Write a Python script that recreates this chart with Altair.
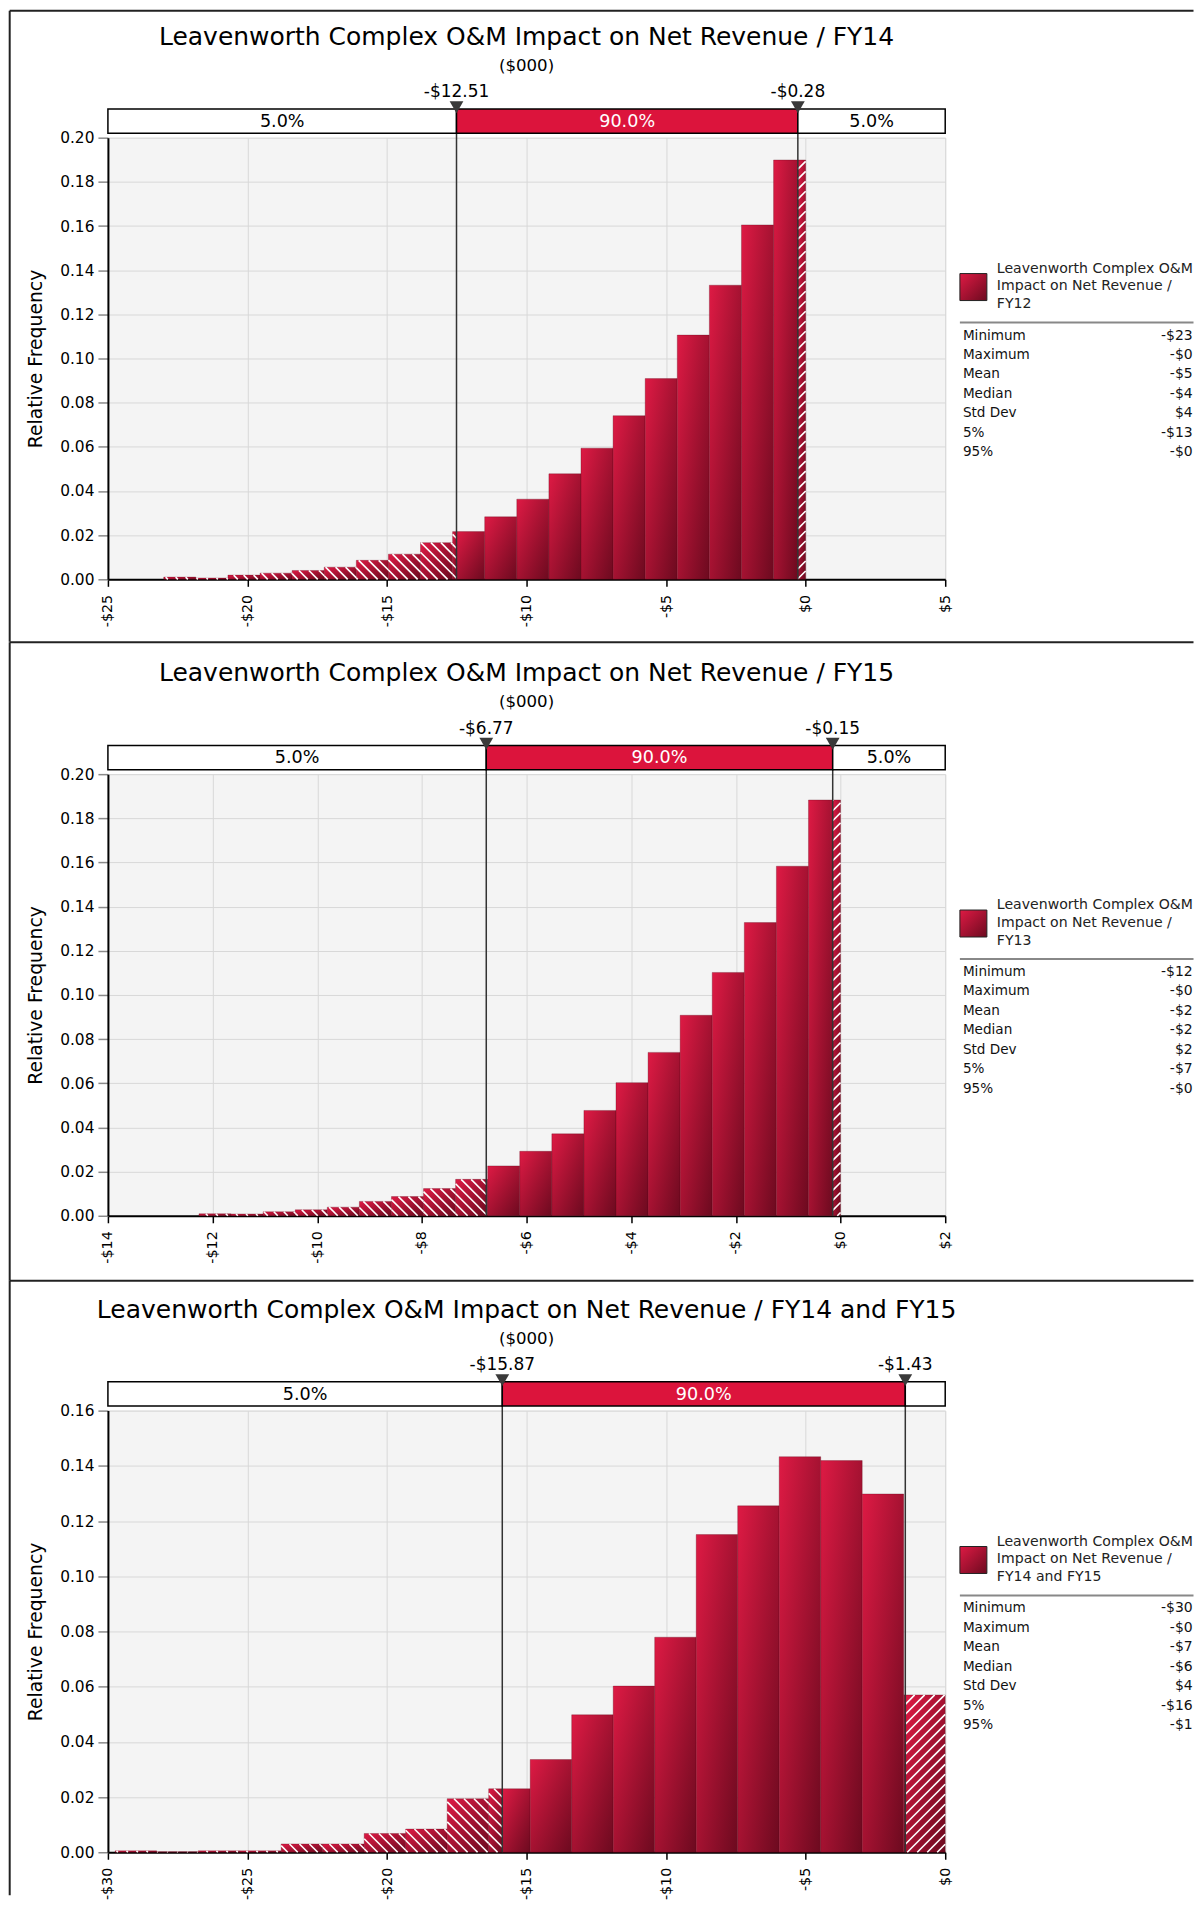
import math
import altair as alt
import pandas as pd

FONT = "DejaVu Sans"
W, H = 838, 442

SUBTITLE = "($000)"
BAND_LABELS = ["5.0%", "90.0%", "5.0%"]
STAT_NAMES = ["Minimum", "Maximum", "Mean", "Median", "Std Dev", "5%", "95%"]
Y_TICKS_20 = [0.00, 0.02, 0.04, 0.06, 0.08, 0.10, 0.12, 0.14, 0.16, 0.18, 0.20]
Y_TICKS_16 = [0.00, 0.02, 0.04, 0.06, 0.08, 0.10, 0.12, 0.14, 0.16]

# ---- Panel 1: FY14 ----
FY14_TITLE = "Leavenworth Complex O&M Impact on Net Revenue / FY14"
FY14_EDGES = [-23.0, -21.85, -20.7, -19.55, -18.4, -17.25, -16.1, -14.95, -13.8, -12.65,
              -11.5, -10.35, -9.2, -8.05, -6.9, -5.75, -4.6, -3.45, -2.3, -1.15, 0.0]
FY14_FREQ = [0.0010, 0.0006, 0.0019, 0.0028, 0.0040, 0.0055, 0.0086, 0.0114, 0.0166, 0.0216,
             0.0283, 0.0363, 0.0478, 0.0594, 0.0741, 0.0909, 0.1106, 0.1332, 0.1605, 0.1899]
FY14_P5, FY14_P95 = -12.51, -0.28
FY14_XDOM = [-25, 5]
FY14_XTICKS = [-25, -20, -15, -10, -5, 0, 5]
FY14_LEGEND = ["Leavenworth Complex O&M", "Impact on Net Revenue /", "FY12"]
FY14_STATS = ["-$23", "-$0", "-$5", "-$4", "$4", "-$13", "-$0"]

# ---- Panel 2: FY15 ----
FY15_TITLE = "Leavenworth Complex O&M Impact on Net Revenue / FY15"
FY15_EDGES = [-12.26, -11.647, -11.034, -10.421, -9.808, -9.195, -8.582, -7.969, -7.356, -6.743,
              -6.13, -5.517, -4.904, -4.291, -3.678, -3.065, -2.452, -1.839, -1.226, -0.613, 0.0]
FY15_FREQ = [0.0009, 0.0008, 0.0018, 0.0027, 0.0039, 0.0065, 0.0087, 0.0123, 0.0165, 0.0226,
             0.0292, 0.0371, 0.0477, 0.0603, 0.0740, 0.0908, 0.1102, 0.1328, 0.1583, 0.1883]
FY15_P5, FY15_P95 = -6.77, -0.15
FY15_XDOM = [-14, 2]
FY15_XTICKS = [-14, -12, -10, -8, -6, -4, -2, 0, 2]
FY15_LEGEND = ["Leavenworth Complex O&M", "Impact on Net Revenue /", "FY13"]
FY15_STATS = ["-$12", "-$0", "-$2", "-$2", "$2", "-$7", "-$0"]

# ---- Panel 3: FY14 and FY15 ----
BOTH_TITLE = "Leavenworth Complex O&M Impact on Net Revenue / FY14 and FY15"
BOTH_EDGES = [-29.74, -28.253, -26.766, -25.279, -23.792, -22.305, -20.818, -19.331, -17.844, -16.357,
              -14.87, -13.383, -11.896, -10.409, -8.922, -7.435, -5.948, -4.461, -2.974, -1.487, 0.0]
BOTH_FREQ = [0.0005, 0.0002, 0.0005, 0.0005, 0.0030, 0.0030, 0.0068, 0.0084, 0.0194, 0.0230,
             0.0336, 0.0498, 0.0602, 0.0779, 0.1151, 0.1255, 0.1433, 0.1419, 0.1298, 0.0570]
BOTH_P5, BOTH_P95 = -15.87, -1.43
BOTH_XDOM = [-30, 0]
BOTH_XTICKS = [-30, -25, -20, -15, -10, -5, 0]
BOTH_LEGEND = ["Leavenworth Complex O&M", "Impact on Net Revenue /", "FY14 and FY15"]
BOTH_STATS = ["-$30", "-$0", "-$7", "-$6", "$4", "-$16", "-$1"]

GRAD = alt.Gradient(
    gradient="linear",
    stops=[alt.GradientStop(color="#de1a44", offset=0),
           alt.GradientStop(color="#6c0a1f", offset=1)],
    x1=0, y1=0, x2=1, y2=1,
)

RIGHT = 1086.5  # right end of panel rules (relative to plot left)
LEG_DY = 2.0


def money(v):
    return ("-$" if v < 0 else "$") + f"{abs(v):.2f}"


def hatch_segments(bars, xmin, kx, ky, step=10.0):
    segs = []
    for _, r in bars.iterrows():
        if r["kind"] == "main":
            continue
        px0 = (r["x0"] - xmin) * kx
        px1 = (r["x1"] - xmin) * kx
        ph = r["f"] * ky
        if r["kind"] == "left":  # "\" lines: x + y = c
            for k in range(math.ceil(px0 / step), math.floor((px1 + ph) / step) + 1):
                c = k * step
                xa, xb = max(px0, c - ph), min(px1, c)
                if xb - xa > 0.3:
                    segs.append((xa, c - xa, xb, c - xb))
        else:  # "/" lines: y = x - c
            for k in range(math.ceil((px0 - ph) / step), math.floor(px1 / step) + 1):
                c = k * step
                xa, xb = max(px0, c), min(px1, c + ph)
                if xb - xa > 0.3:
                    segs.append((xa, xa - c, xb, xb - c))
    return pd.DataFrame({
        "hx0": [xmin + s[0] / kx for s in segs],
        "hy0": [s[1] / ky for s in segs],
        "hx1": [xmin + s[2] / kx for s in segs],
        "hy1": [s[3] / ky for s in segs],
    })


def panel(title, edges, freq, p5, p95, xdom, xticks, yticks, legend_lines, stats, top_line, bottom_line):
    ymax = yticks[-1]
    kx = W / (xdom[1] - xdom[0])
    ky = H / ymax
    xs = alt.Scale(domain=xdom, nice=False, zero=False)
    ys = alt.Scale(domain=[0, ymax], nice=False, zero=True)
    xaxis = alt.Axis(values=xticks, title=None, grid=True, labelAngle=-90, labelFontSize=14.3,
                     tickSize=7, labelPadding=8, tickColor="black",
                     labelExpr="(datum.value < 0 ? '-$' : '$') + format(abs(datum.value), 'd')")
    yaxis = alt.Axis(values=yticks, format=".2f", title="Relative Frequency", grid=True,
                     labelFontSize=15.4, tickSize=10, labelPadding=4, tickColor="#8a8a8a",
                     titleFontSize=18.8, titlePadding=14)

    def X(f):
        return alt.X(f, type="quantitative", scale=xs, axis=xaxis)

    def Y(f):
        return alt.Y(f, type="quantitative", scale=ys, axis=yaxis)

    rows = []
    for a, b, f in zip(edges[:-1], edges[1:], freq):
        cuts = [a] + [c for c in (p5, p95) if a < c < b] + [b]
        for s, e in zip(cuts[:-1], cuts[1:]):
            mid = (s + e) / 2
            kind = "left" if mid < p5 else ("right" if mid > p95 else "main")
            rows.append({"x0": s, "x1": e, "f": f, "kind": kind})
    bars = pd.DataFrame(rows)
    hatch = hatch_segments(bars, xdom[0], kx, ky)

    layers = []
    layers.append(alt.Chart(bars).mark_rect(fill=GRAD, stroke="#5a0818", strokeWidth=0.6, strokeOpacity=0.5)
                  .encode(x=X("x0"), x2=alt.X2("x1"), y=Y("f"), y2=alt.datum(0)))
    layers.append(alt.Chart(hatch).mark_rule(color="white", strokeWidth=1.6)
                  .encode(x=X("hx0"), x2=alt.X2("hx1"), y=Y("hy0"), y2=alt.Y2("hy1")))

    pct = pd.DataFrame({"p": [p5, p95], "lab": [money(p5), money(p95)]})
    layers.append(alt.Chart(pct).mark_rule(color="#333333", strokeWidth=1.5)
                  .encode(x=X("p"), y=alt.value(-29), y2=alt.value(H)))

    band = pd.DataFrame({
        "b0": [xdom[0], p5, p95],
        "b1": [p5, p95, xdom[1]],
        "fill": ["white", "#dc143c", "white"],
        "tc": ["black", "white", "black"],
        "lab": BAND_LABELS,
    })
    band["mid"] = (band["b0"] + band["b1"]) / 2
    band["lab"] = [l if (b1 - b0) * kx > 55 else "" for l, b0, b1 in zip(band["lab"], band["b0"], band["b1"])]
    layers.append(alt.Chart(band).mark_rect(stroke="black", strokeWidth=1.5)
                  .encode(x=X("b0"), x2=alt.X2("b1"), y=alt.value(-28.8), y2=alt.value(-4.5),
                          fill=alt.Fill("fill:N", scale=None)))
    layers.append(alt.Chart(band).mark_text(fontSize=17.6, baseline="middle")
                  .encode(x=X("mid"), y=alt.value(-16), text="lab:N", color=alt.Color("tc:N", scale=None)))

    layers.append(alt.Chart(pct).mark_point(shape="triangle-down", filled=True, size=190, color="#3a3a3a", opacity=1)
                  .encode(x=X("p"), y=alt.value(-30.5)))
    layers.append(alt.Chart(pct).mark_text(fontSize=17, color="black", baseline="middle")
                  .encode(x=X("p"), y=alt.value(-45.5), text="lab:N"))

    one = pd.DataFrame({"t": [title], "s": [SUBTITLE]})
    layers.append(alt.Chart(one).mark_text(fontSize=25, color="black", baseline="middle")
                  .encode(x=alt.value(W / 2), y=alt.value(-101), text="t:N"))
    layers.append(alt.Chart(one).mark_text(fontSize=16.6, color="black", baseline="middle")
                  .encode(x=alt.value(W / 2), y=alt.value(-72), text="s:N"))

    # legend
    layers.append(alt.Chart(one).mark_rect(fill=GRAD, stroke="#222222", strokeWidth=1)
                  .encode(x=alt.value(852.7), x2=alt.value(879.7),
                          y=alt.value(134 + LEG_DY), y2=alt.value(161 + LEG_DY)))
    leg = pd.DataFrame({"line": legend_lines, "i": list(range(len(legend_lines)))})
    layers.append(alt.Chart(leg).transform_calculate(yy=f"{129 + LEG_DY} + datum.i * 17.8")
                  .mark_text(align="left", baseline="middle", fontSize=14.1, color="#222222")
                  .encode(x=alt.value(889.7), y=alt.Y("yy:Q", scale=None, axis=None), text="line:N"))
    layers.append(alt.Chart(one).mark_rule(color="#888888", strokeWidth=2)
                  .encode(x=alt.value(852.7), x2=alt.value(RIGHT), y=alt.value(183 + LEG_DY)))
    st = pd.DataFrame({"name": STAT_NAMES, "val": stats, "i": list(range(len(stats)))})
    layers.append(alt.Chart(st).transform_calculate(yy=f"{196 + LEG_DY} + datum.i * 19.5")
                  .mark_text(align="left", baseline="middle", fontSize=13.6, color="#111111")
                  .encode(x=alt.value(855.7), y=alt.Y("yy:Q", scale=None, axis=None), text="name:N"))
    layers.append(alt.Chart(st).transform_calculate(yy=f"{196 + LEG_DY} + datum.i * 19.5")
                  .mark_text(align="right", baseline="middle", fontSize=14, color="#111111")
                  .encode(x=alt.value(RIGHT - 0.8), y=alt.Y("yy:Q", scale=None, axis=None), text="val:N"))

    # panel borders
    layers.append(alt.Chart(one).mark_rule(color="#222222", strokeWidth=2)
                  .encode(x=alt.value(-98.3), x2=alt.value(RIGHT), y=alt.value(top_line)))
    layers.append(alt.Chart(one).mark_rule(color="#222222", strokeWidth=2)
                  .encode(x=alt.value(-98.3), y=alt.value(top_line), y2=alt.value(bottom_line)))

    return alt.layer(*layers).properties(width=W, height=H)


p1 = panel(FY14_TITLE, FY14_EDGES, FY14_FREQ, FY14_P5, FY14_P95, FY14_XDOM, FY14_XTICKS, Y_TICKS_20,
           FY14_LEGEND, FY14_STATS, -127, 504.5)
p2 = panel(FY15_TITLE, FY15_EDGES, FY15_FREQ, FY15_P5, FY15_P95, FY15_XDOM, FY15_XTICKS, Y_TICKS_20,
           FY15_LEGEND, FY15_STATS, -132, 507)
p3 = panel(BOTH_TITLE, BOTH_EDGES, BOTH_FREQ, BOTH_P5, BOTH_P95, BOTH_XDOM, BOTH_XTICKS, Y_TICKS_16,
           BOTH_LEGEND, BOTH_STATS, -130, 485)

chart = (
    alt.vconcat(p1, p2, p3, spacing=195, bounds="flush")
    .properties(padding=0)
    .configure(font=FONT)
    .configure_view(fill="#f4f4f4", stroke="#e4e4e4")
    .configure_axis(domainColor="black", domainWidth=2, tickWidth=1.5,
                    labelColor="black", gridColor="#d8d8d8", gridWidth=1,
                    titleFontWeight="normal", titleColor="black")
)

chart.save("out.html", embed_options={"renderer": "svg", "actions": False})
